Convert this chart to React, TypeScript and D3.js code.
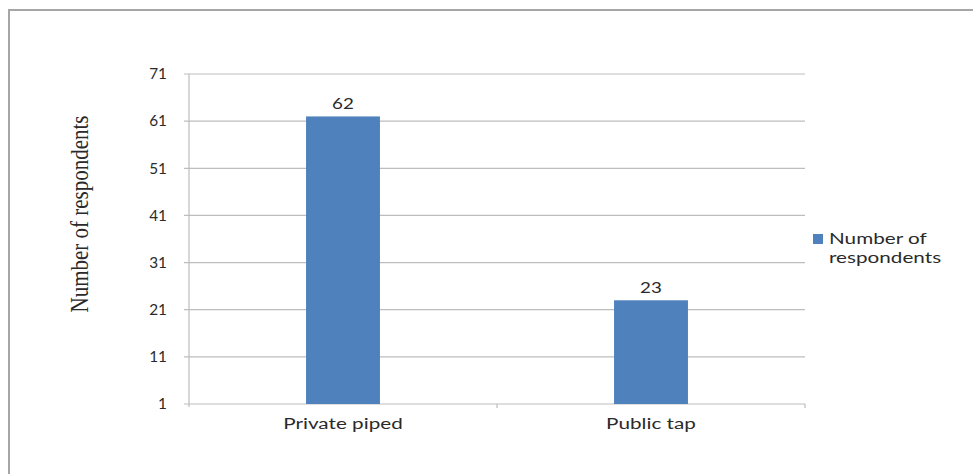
import React from "react";
import * as d3 from "d3";

const categories = ["Private piped", "Public tap"];
const values = [62, 23];
const yTicks = [1, 11, 21, 31, 41, 51, 61, 71];
const seriesName = "Number of respondents";
const legendLines = ["Number of", "respondents"];

const W = 973;
const H = 474;
const m = { left: 189, right: 805, top: 74, bottom: 404 };
const barColor = "#4f81bd";
const labelFont = "Lato, 'Open Sans', sans-serif";
const textColor = "#2a2a2a";

function sx(x: number, s: number) {
  return `translate(${x},0) scale(${s},1) translate(${-x},0)`;
}

export default function App() {
  const x = d3.scaleBand<string>().domain(categories).range([m.left, m.right]).paddingInner(0).paddingOuter(0);
  const y = d3.scaleLinear().domain([1, 71]).range([m.bottom, m.top]);
  const barW = x.bandwidth() * 0.24;

  return (
    <svg width={W} height={H} style={{ position: "absolute", left: 0, top: 0, background: "#fff" }}>
      <rect x={9} y={10} width={W + 10} height={H + 10} fill="none" stroke="#a6a6a6" strokeWidth={2} />
      {yTicks.map((t) => (
        <g key={t}>
          <line x1={m.left - 5} x2={m.right} y1={y(t)} y2={y(t)} stroke="#bdbdbd" strokeWidth={1.2} />
          <text x={167} y={y(t)} dy="0.35em" textAnchor="end" fontFamily={labelFont} fontSize={15} fill={textColor} transform={sx(167, 1.02)}>
            {t}
          </text>
        </g>
      ))}
      <line x1={m.left} x2={m.left} y1={m.top} y2={m.bottom + 3} stroke="#bdbdbd" strokeWidth={1.2} />
      {[m.left + x.bandwidth(), m.right].map((tx) => (
        <line key={tx} x1={tx} x2={tx} y1={m.bottom} y2={m.bottom + 4} stroke="#bdbdbd" strokeWidth={1.2} />
      ))}
      {categories.map((c, i) => {
        const cx = x(c)! + x.bandwidth() / 2;
        return (
          <g key={c}>
            <rect x={cx - barW / 2} y={y(values[i])} width={barW} height={y(1) - y(values[i])} fill={barColor} />
            <text x={cx} y={y(values[i]) - 7} textAnchor="middle" fontFamily={labelFont} fontSize={15} fill={textColor} transform={sx(cx, 1.25)}>
              {values[i]}
            </text>
            <text x={cx} y={429} textAnchor="middle" fontFamily={labelFont} fontSize={15} fill={textColor} transform={sx(cx, 1.38)}>
              {c}
            </text>
          </g>
        );
      })}
      <text
        transform={`translate(88,214) rotate(-90) scale(1,1.2)`}
        textAnchor="middle"
        fontFamily="'Liberation Serif', 'DejaVu Serif', serif"
        fontSize={21}
        fill={textColor}
      >
        {seriesName}
      </text>
      <rect x={813} y={234} width={10} height={10} fill={barColor} />
      {legendLines.map((l, i) => (
        <text key={l} x={829} y={244 + i * 19} fontFamily={labelFont} fontSize={15} fill={textColor} transform={sx(829, 1.38)}>
          {l}
        </text>
      ))}
    </svg>
  );
}
